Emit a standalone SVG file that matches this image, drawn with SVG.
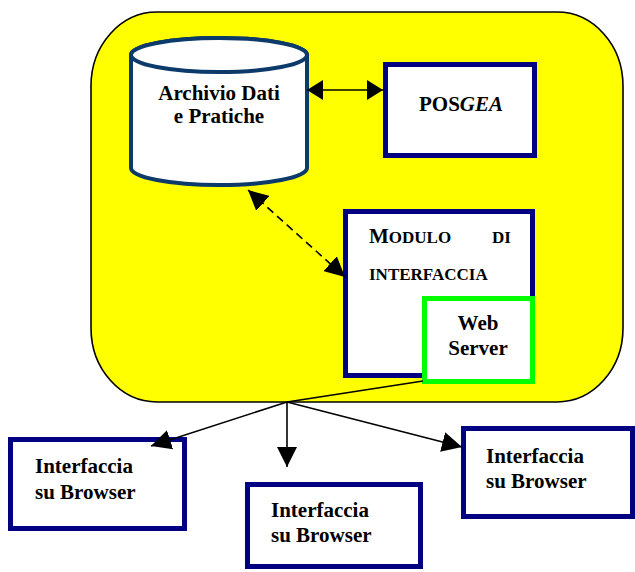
<svg xmlns="http://www.w3.org/2000/svg" width="635" height="572" viewBox="0 0 635 572">
<style>
text{font-family:"Liberation Serif","Times New Roman",serif;font-weight:bold;fill:#000;}
.t21{font-size:21px;}
.sc{font-size:17px;}
.box{fill:#fff;stroke:#000080;stroke-width:5;}
.web{fill:#fff;stroke:#00ff00;stroke-width:5;}
.ln{stroke:#000;stroke-width:1.6;fill:none;}
</style>
<defs>
<marker id="ah" markerUnits="userSpaceOnUse" markerWidth="20" markerHeight="20" refX="20" refY="10" orient="auto-start-reverse" viewBox="0 0 20 20">
<path d="M0,0 L20,10 L0,20 Z" fill="#000"/>
</marker>
<marker id="ahs" markerUnits="userSpaceOnUse" markerWidth="16" markerHeight="20" refX="16" refY="10" orient="auto-start-reverse" viewBox="0 0 16 20">
<path d="M0,0 L16,10 L0,20 Z" fill="#000"/>
</marker>
</defs>
<g id="container">
<rect x="91" y="12" width="532" height="390" rx="66" ry="74" fill="#ffff00" stroke="#000" stroke-width="1.6"/>
</g>
<g id="archivio">
<path d="M131,55 L131,168 A88,17 0 0 0 307,168 L307,55 A88,17 0 0 0 131,55 Z" fill="#fff" stroke="#0b3a6b" stroke-width="4"/>
<ellipse cx="219" cy="55" rx="88" ry="17" fill="#fff" stroke="#0b3a6b" stroke-width="4"/>
<text class="t21" x="219" y="100" text-anchor="middle">Archivio Dati</text>
<text class="t21" x="219" y="123" text-anchor="middle">e Pratiche</text>
</g>
<g id="posgea">
<rect class="box" x="385.5" y="64.5" width="149" height="91"/>
<text class="t21" x="461" y="111" text-anchor="middle">POS<tspan font-style="italic">GEA</tspan></text>
</g>
<g id="modulo">
<rect class="box" x="345.5" y="211.5" width="187" height="164"/>
<text x="369" y="243"><tspan class="t21">M</tspan><tspan class="sc">ODULO</tspan></text>
<text class="sc" x="492" y="243">DI</text>
<text class="sc" x="369" y="280">INTERFACCIA</text>
</g>
<g id="webserver">
<rect class="web" x="424.5" y="298.5" width="108" height="83"/>
<text class="t21" x="478" y="330" text-anchor="middle">Web</text>
<text class="t21" x="478" y="355" text-anchor="middle">Server</text>
</g>
<g id="browser1">
<rect class="box" x="10.5" y="439.5" width="174" height="89"/>
<text class="t21" x="35" y="473">Interfaccia</text>
<text class="t21" x="35" y="499">su Browser</text>
</g>
<g id="browser2">
<rect class="box" x="247.5" y="484.5" width="173" height="82"/>
<text class="t21" x="271" y="517">Interfaccia</text>
<text class="t21" x="271" y="542">su Browser</text>
</g>
<g id="browser3">
<rect class="box" x="463.5" y="428.5" width="169" height="88"/>
<text class="t21" x="486" y="463">Interfaccia</text>
<text class="t21" x="486" y="488">su Browser</text>
</g>
<g id="connectors">
<line class="ln" x1="307" y1="90" x2="383" y2="90" marker-start="url(#ahs)" marker-end="url(#ahs)"/>
<line class="ln" x1="248" y1="190" x2="345" y2="277" stroke-width="2" stroke-dasharray="8,5" marker-start="url(#ah)" marker-end="url(#ah)"/>
<polyline class="ln" points="423,381 287,402"/>
<line class="ln" x1="287" y1="402" x2="151" y2="446" marker-end="url(#ah)"/>
<line class="ln" x1="287" y1="402" x2="287" y2="467" marker-end="url(#ah)"/>
<line class="ln" x1="287" y1="402" x2="462" y2="447" marker-end="url(#ah)"/>
</g>
</svg>
